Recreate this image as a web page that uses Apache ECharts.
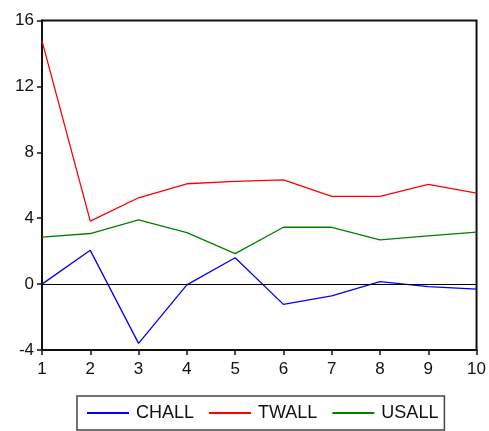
<!DOCTYPE html>
<html><head><meta charset="utf-8">
<script src="https://cdn.jsdelivr.net/npm/echarts@6/dist/echarts.min.js"></script>
<style>html,body{margin:0;padding:0;background:#fff}#c{width:489px;height:431px}</style>
</head><body><div id="c"></div>
<script>
var categories = ['1','2','3','4','5','6','7','8','9','10'];
var chall = [0.0, 2.05, -3.6, -0.05, 1.6, -1.23, -0.72, 0.15, -0.15, -0.3];
var twall = [14.76, 3.82, 5.24, 6.09, 6.23, 6.33, 5.32, 5.32, 6.05, 5.52];
var usall = [2.85, 3.07, 3.9, 3.13, 1.85, 3.45, 3.45, 2.69, 2.93, 3.15];
var yTicks = {min: -4, max: 16, interval: 4};

var font = 'Liberation Sans, Arial, sans-serif';
var chart = echarts.init(document.getElementById('c'), null, {renderer: 'canvas'});
function ser(name, data, color, extra) {
  var s = {name: name, type: 'line', data: data, symbol: 'none', animation: false,
    lineStyle: {color: color, width: 1.3}, itemStyle: {color: color}};
  return Object.assign(s, extra || {});
}
chart.setOption({
  animation: false,
  grid: {left: 42, right: 9, top: 20.5, bottom: 81, show: true, borderColor: '#111', borderWidth: 2, backgroundColor: 'transparent'},
  xAxis: {type: 'category', data: categories, boundaryGap: false,
    axisLine: {onZero: false, lineStyle: {color: '#111', width: 2}},
    axisTick: {show: true, length: 5, lineStyle: {color: '#111', width: 1.5}, alignWithLabel: true},
    axisLabel: {color: '#111', fontSize: 17, fontFamily: font, margin: 11},
    splitLine: {show: false}},
  yAxis: {type: 'value', min: yTicks.min, max: yTicks.max, interval: yTicks.interval,
    axisLine: {show: true, onZero: false, lineStyle: {color: '#111', width: 2}},
    axisTick: {show: true, length: 5, lineStyle: {color: '#111', width: 1.5}},
    axisLabel: {color: '#111', fontSize: 17, fontFamily: font, margin: 8},
    splitLine: {show: false}},
  legend: {left: 77, top: 396, orient: 'horizontal', padding: [8, 6, 8, 9],
    borderColor: '#444', borderWidth: 1.5, itemWidth: 42, itemHeight: 17, itemGap: 14,
    itemStyle: {opacity: 0},
    textStyle: {color: '#111', fontSize: 18, fontFamily: font, padding: [0, 0, 0, 2]},
    data: ['CHALL', 'TWALL', 'USALL']},
  series: [
    ser('CHALL', chall, '#0000ff', {markLine: {silent: true, symbol: 'none', label: {show: false},
      lineStyle: {color: '#000', width: 1, type: 'solid'}, data: [{yAxis: 0}], animation: false}}),
    ser('TWALL', twall, '#ff0000'),
    ser('USALL', usall, '#008000')
  ]
});
</script></body></html>
